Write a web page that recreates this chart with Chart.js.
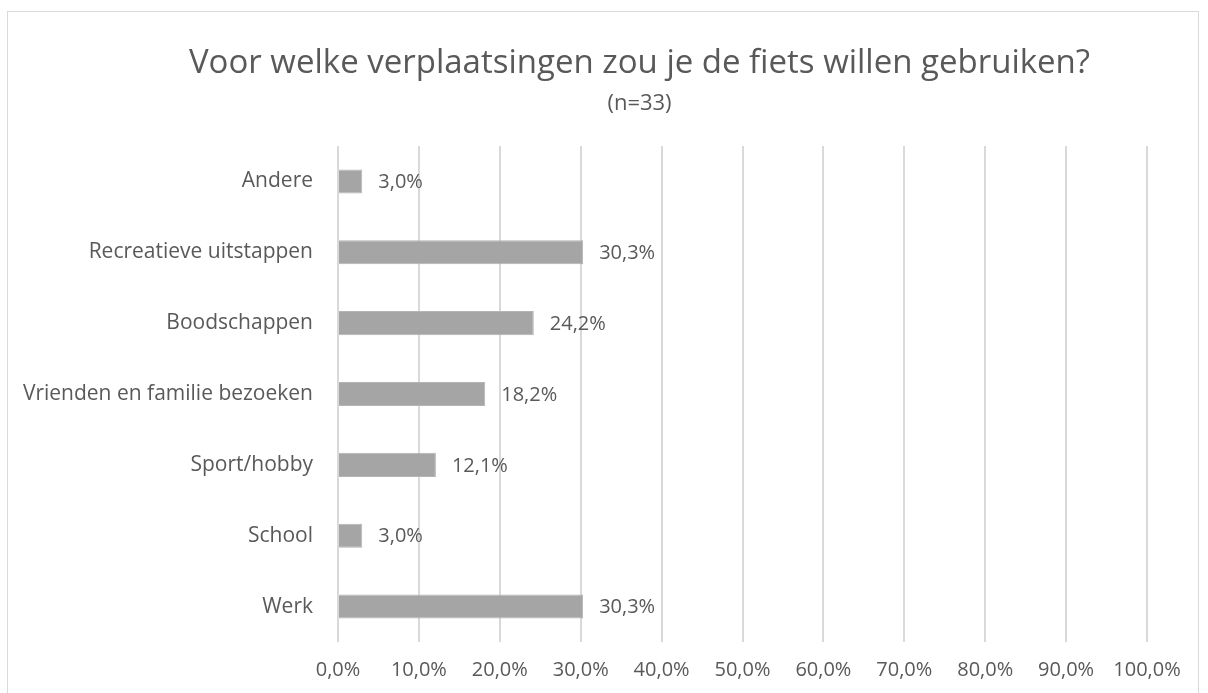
<!DOCTYPE html>
<html>
<head>
<meta charset="utf-8">
<script src="https://cdn.jsdelivr.net/npm/chart.js@4"></script>
<style>
  body { margin: 0; background: #fff; }
  #frame { position: absolute; left: 7px; top: 11px; width: 1192px; height: 720px; border: 1px solid #d9d9d9; box-sizing: border-box; }
  #wrap { position: absolute; left: 0; top: 0; width: 1208px; height: 693px; }
</style>
</head>
<body>
<div id="frame"></div>
<div id="wrap"><canvas id="chart"></canvas></div>
<script>
const categories = ['Andere', 'Recreatieve uitstappen', 'Boodschappen', 'Vrienden en familie bezoeken', 'Sport/hobby', 'School', 'Werk']
const values = [3.0, 30.3, 24.2, 18.2, 12.1, 3.0, 30.3]
const titleText = 'Voor welke verplaatsingen zou je de fiets willen gebruiken?'
const subtitleText = '(n=33)'

const textColor = '#595959'
const fontFamily = '"Open Sans", sans-serif'

function pct(v) {
  return v.toFixed(1).replace('.', ',') + '%'
}

// labels next to the bars
const barLabels = {
  id: 'barLabels',
  afterDatasetsDraw(chart) {
    let ctx = chart.ctx
    let meta = chart.getDatasetMeta(0)
    ctx.save()
    ctx.font = '20px ' + fontFamily
    ctx.fillStyle = textColor
    ctx.textAlign = 'left'
    ctx.textBaseline = 'middle'
    meta.data.forEach((bar, i) => {
      ctx.fillText(pct(values[i]), bar.x + 16, bar.y + 1)
    })
    ctx.restore()
  }
}

// title in the original sits a bit right of the plot's centre
const shiftTitle = {
  id: 'shiftTitle',
  afterLayout(chart) {
    for (let box of chart.boxes) {
      if (box.options && (box.options.text === titleText || box.options.text === subtitleText)) {
        box.left += 61
        box.right += 61
      }
    }
  }
}

let ctx = document.getElementById('chart').getContext('2d')
let chart = new Chart(ctx, {
  type: 'bar',
  data: {
    labels: categories,
    datasets: [{
      data: values,
      backgroundColor: '#a5a5a5',
      borderColor: '#b4b4b4',
      borderWidth: 1,
      categoryPercentage: 1,
      barPercentage: 0.34
    }]
  },
  options: {
    indexAxis: 'y',
    responsive: true,
    maintainAspectRatio: false,
    animation: false,
    layout: {
      padding: { left: 10, right: 61, top: 0, bottom: 0 }
    },
    plugins: {
      legend: { display: false },
      tooltip: { enabled: false },
      title: {
        display: true,
        text: titleText,
        color: textColor,
        font: { family: fontFamily, size: 33, weight: 'normal', lineHeight: 1.2 },
        padding: { top: 44, bottom: 7 }
      },
      subtitle: {
        display: true,
        text: subtitleText,
        color: textColor,
        font: { family: fontFamily, size: 22, weight: 'normal', lineHeight: 1.2 },
        padding: { top: 0, bottom: 29 }
      }
    },
    scales: {
      x: {
        min: 0,
        max: 100,
        ticks: {
          stepSize: 10,
          color: textColor,
          padding: 16,
          font: { family: fontFamily, size: 20 },
          callback: v => pct(v)
        },
        grid: { color: '#d9d9d9', lineWidth: 2, drawTicks: false },
        border: { display: false },
        afterFit(scale) { scale.height = 51 }
      },
      y: {
        ticks: {
          color: textColor,
          padding: 25,
          font: { family: fontFamily, size: 21 }
        },
        grid: { display: false, drawTicks: false },
        border: { display: false },
        afterFit(scale) { scale.width = 328 }
      }
    }
  },
  plugins: [barLabels, shiftTitle]
})
</script>
</body>
</html>
